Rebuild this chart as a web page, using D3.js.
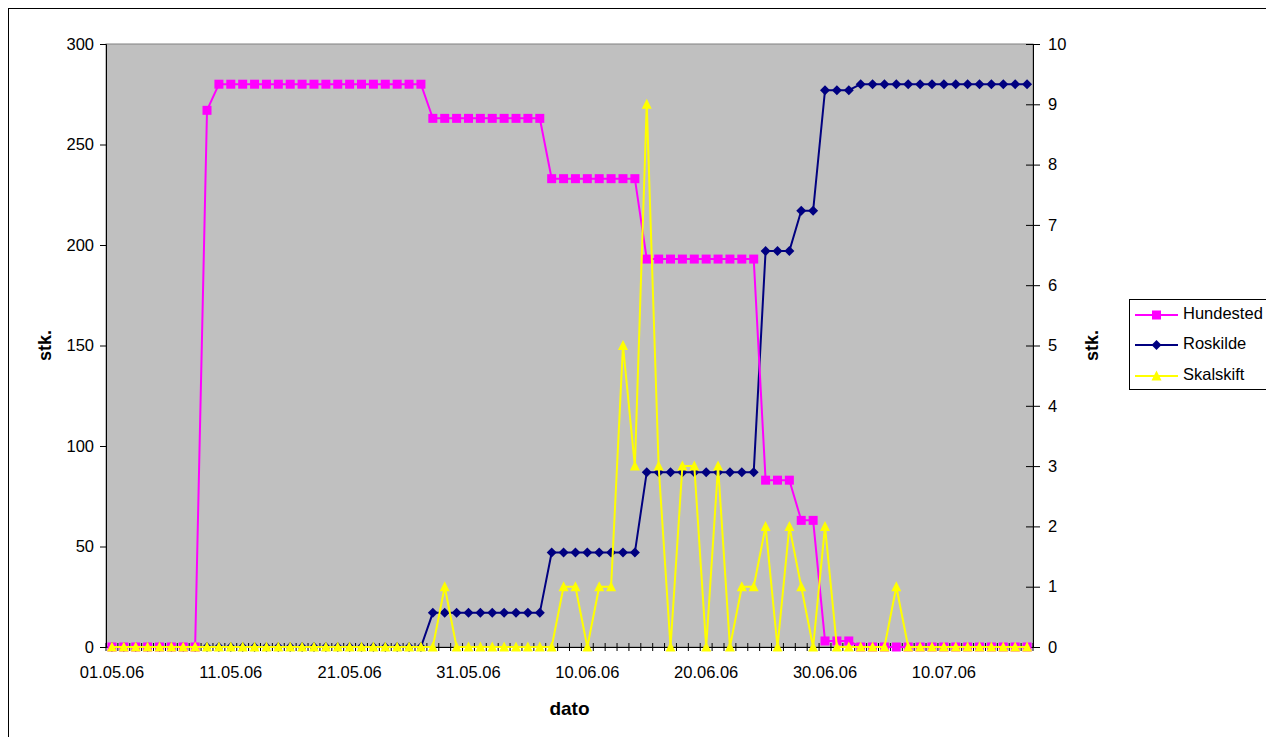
<!DOCTYPE html>
<html>
<head>
<meta charset="utf-8">
<script src="https://cdn.jsdelivr.net/npm/d3@7"></script>
<style>
  html, body { margin: 0; padding: 0; background: #fff; }
  svg { display: block; font-family: "Liberation Sans", Arial, sans-serif; }
</style>
</head>
<body>
<svg id="chart" width="1266" height="737"></svg>
<script>
// Daily categories 01.05.06 – 17.07.06
const days = d3.timeDay.range(new Date(2006, 4, 1), new Date(2006, 6, 18));
const tickLabels = ["01.05.06", "11.05.06", "21.05.06", "31.05.06", "10.06.06", "20.06.06", "30.06.06", "10.07.06"];
const leftTicks = [0, 50, 100, 150, 200, 250, 300];
const rightTicks = [0, 1, 2, 3, 4, 5, 6, 7, 8, 9, 10];

// Hundested (left axis, stk.)
const hundested = [
  0, 0, 0, 0, 0, 0, 0, 0, 267,
  280, 280, 280, 280, 280, 280, 280, 280, 280, 280, 280, 280, 280, 280, 280, 280, 280, 280,
  263, 263, 263, 263, 263, 263, 263, 263, 263, 263,
  233, 233, 233, 233, 233, 233, 233, 233,
  193, 193, 193, 193, 193, 193, 193, 193, 193, 193,
  83, 83, 83,
  63, 63,
  3, 3, 3,
  0, 0, 0, 0, 0, 0, 0, 0, 0, 0, 0, 0, 0, 0, 0
];
// Roskilde (left axis, stk.)
const roskilde = [
  0, 0, 0, 0, 0, 0, 0, 0, 0, 0, 0, 0, 0, 0, 0, 0, 0, 0, 0, 0, 0, 0, 0, 0, 0, 0, 0,
  17, 17, 17, 17, 17, 17, 17, 17, 17, 17,
  47, 47, 47, 47, 47, 47, 47, 47,
  87, 87, 87, 87, 87, 87, 87, 87, 87, 87,
  197, 197, 197,
  217, 217,
  277, 277, 277,
  280, 280, 280, 280, 280, 280, 280, 280, 280, 280, 280, 280, 280, 280, 280
];
// Skalskift (right axis, stk.)
const skalskift = [
  0, 0, 0, 0, 0, 0, 0, 0, 0, 0, 0, 0, 0, 0, 0, 0, 0, 0, 0, 0, 0, 0, 0, 0, 0, 0, 0, 0,
  1,
  0, 0, 0, 0, 0, 0, 0, 0, 0,
  1, 1, 0, 1, 1, 5, 3, 9, 3, 0, 3, 3, 0, 3, 0, 1, 1, 2, 0, 2, 1, 0, 2,
  0, 0, 0, 0, 0,
  1,
  0, 0, 0, 0, 0, 0, 0, 0, 0, 0, 0
];

const fmt = d3.timeFormat("%d.%m.%y");
const cats = days.map(fmt);

const svg = d3.select("#chart");
const L = 106, R = 1033, T = 44, B = 647;

const x = d3.scaleBand().domain(cats).range([L, R]).paddingInner(0).paddingOuter(0);
const cx = d => x(d) + x.bandwidth() / 2;
const yL = d3.scaleLinear().domain([0, 300]).range([B, T]);
const yR = d3.scaleLinear().domain([0, 10]).range([B, T]);

// chart area border
svg.append("rect").attr("x", 8.5).attr("y", 8.5).attr("width", 1270).attr("height", 740)
  .attr("fill", "#fff").attr("stroke", "#000").attr("stroke-width", 1);

// plot area
svg.append("rect").attr("x", L).attr("y", T).attr("width", R - L).attr("height", B - T)
  .attr("fill", "#C0C0C0").attr("stroke", "#808080").attr("stroke-width", 1);

const fontSize = "16.5px";

// left axis
const gL = svg.append("g").attr("transform", `translate(${L},0)`)
  .call(d3.axisLeft(yL).tickValues(leftTicks).tickSize(6).tickPadding(6).tickFormat(d3.format("d")));
gL.select(".domain").attr("stroke", "#000");
gL.selectAll("text").attr("font-size", fontSize).attr("fill", "#000").attr("font-family", "Liberation Sans, Arial, sans-serif");

// right axis (ticks cross the line)
const gR = svg.append("g").attr("transform", `translate(${R},0)`)
  .call(d3.axisRight(yR).tickValues(rightTicks).tickSize(7).tickPadding(8));
gR.select(".domain").attr("stroke", "#000");
gR.selectAll(".tick line").attr("x1", -7);
gR.selectAll("text").attr("font-size", fontSize).attr("fill", "#000").attr("font-family", "Liberation Sans, Arial, sans-serif");

// x axis: tick marks on day boundaries, labels every 10 days
const gX = svg.append("g").attr("transform", `translate(0,${B})`)
  .call(d3.axisBottom(x).tickValues(tickLabels).tickSize(0).tickPadding(19));
gX.select(".domain").attr("stroke", "#000");
gX.selectAll("text").attr("font-size", fontSize).attr("fill", "#000").attr("font-family", "Liberation Sans, Arial, sans-serif");
const bounds = cats.map(c => x(c)).concat([R]);
svg.append("g").selectAll("line").data(bounds).join("line")
  .attr("x1", d => d).attr("x2", d => d).attr("y1", B - 4).attr("y2", B + 4)
  .attr("stroke", "#000").attr("stroke-width", 1);

// axis titles
svg.append("text").attr("transform", "translate(46,345.5) rotate(-90)")
  .attr("text-anchor", "middle").attr("dominant-baseline", "middle")
  .attr("font-weight", "bold").attr("font-size", "18px").text("stk.");
svg.append("text").attr("transform", "translate(1093,345.5) rotate(-90)")
  .attr("text-anchor", "middle").attr("dominant-baseline", "middle")
  .attr("font-weight", "bold").attr("font-size", "18px").text("stk.");
svg.append("text").attr("x", (L + R) / 2).attr("y", 715)
  .attr("text-anchor", "middle").attr("font-weight", "bold").attr("font-size", "19px").text("dato");

// marker shapes
const square = s => `M${-s / 2},${-s / 2}h${s}v${s}h${-s}Z`;
const diamond = s => `M0,${-s / 2}L${s / 2},0L0,${s / 2}L${-s / 2},0Z`;
const triangle = () => `M0,-5.5L5,4.5L-5,4.5Z`;

const series = [
  { name: "Roskilde", values: roskilde, y: yL, color: "#000080", shape: () => diamond(10) },
  { name: "Hundested", values: hundested, y: yL, color: "#FF00FF", shape: () => square(9) },
  { name: "Skalskift", values: skalskift, y: yR, color: "#FFFF00", shape: triangle }
];

series.forEach(s => {
  const pts = cats.map((c, i) => [cx(c), s.y(s.values[i])]);
  svg.append("path").attr("d", d3.line()(pts))
    .attr("fill", "none").attr("stroke", s.color).attr("stroke-width", 2);
  svg.append("g").selectAll("path").data(pts).join("path")
    .attr("transform", d => `translate(${d[0]},${d[1]})`)
    .attr("d", s.shape()).attr("fill", s.color);
});

// legend
const lg = svg.append("g");
lg.append("rect").attr("x", 1129.5).attr("y", 299.5).attr("width", 140).attr("height", 90)
  .attr("fill", "#fff").attr("stroke", "#000").attr("stroke-width", 1);
const legendItems = [
  { name: "Hundested", color: "#FF00FF", shape: () => square(9), y: 315 },
  { name: "Roskilde", color: "#000080", shape: () => diamond(10), y: 345 },
  { name: "Skalskift", color: "#FFFF00", shape: triangle, y: 376 }
];
legendItems.forEach(it => {
  lg.append("line").attr("x1", 1135).attr("x2", 1178).attr("y1", it.y).attr("y2", it.y)
    .attr("stroke", it.color).attr("stroke-width", 2);
  lg.append("path").attr("transform", `translate(1156.5,${it.y})`).attr("d", it.shape()).attr("fill", it.color);
  lg.append("text").attr("x", 1183).attr("y", it.y).attr("dominant-baseline", "middle")
    .attr("font-size", fontSize).text(it.name);
});
</script>
</body>
</html>
